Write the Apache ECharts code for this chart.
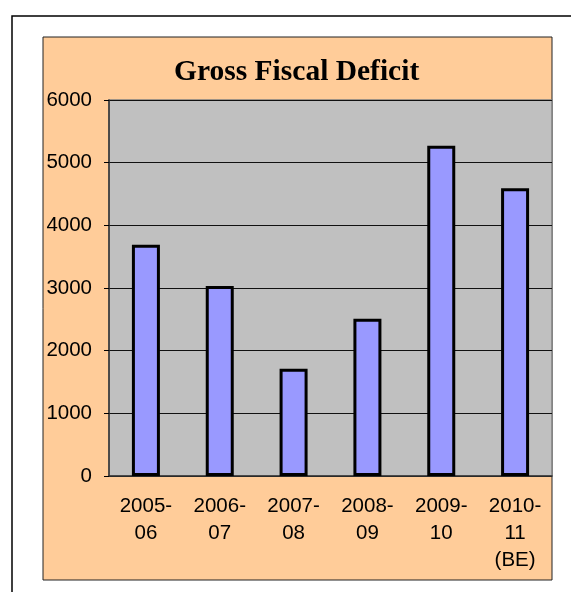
<!DOCTYPE html>
<html>
<head>
<meta charset="utf-8">
<script src="https://cdn.jsdelivr.net/npm/echarts@6/dist/echarts.min.js"></script>
<style>
html, body { margin: 0; padding: 0; background: #fff; }
#chart { width: 571px; height: 592px; }
</style>
</head>
<body>
<div id="chart"></div>
<script>
var categories = ['2005-\n06', '2006-\n07', '2007-\n08', '2008-\n09', '2009-\n10', '2010-\n11\n(BE)'];
var deficit = [3690, 3030, 1710, 2510, 5270, 4590];
var yTicks = { min: 0, max: 6000, step: 1000 };

var _chart = echarts.init(document.getElementById('chart'));
var option = {
    animation: false,
    title: {
        text: 'Gross Fiscal Deficit',
        left: 174,
        top: 57,
        padding: 0,
        textStyle: {
            fontFamily: 'Liberation Serif',
            fontSize: 29.5,
            fontWeight: 'bold',
            color: '#000'
        }
    },
    graphic: [
        {
            type: 'rect',
            z: -10,
            shape: { x: 12, y: 16, width: 600, height: 600 },
            style: { fill: '#fff', stroke: '#000', lineWidth: 1.5 }
        },
        {
            type: 'rect',
            z: -9,
            shape: { x: 43, y: 37, width: 509, height: 543 },
            style: { fill: '#FFCC99', stroke: '#222', lineWidth: 1 }
        }
    ],
    grid: {
        left: 109,
        top: 100,
        right: 19,
        bottom: 116,
        show: true,
        backgroundColor: '#C0C0C0',
        borderColor: '#808080',
        borderWidth: 1.5
    },
    xAxis: {
        type: 'category',
        data: categories,
        axisLine: { lineStyle: { color: '#333', width: 1.5 } },
        axisTick: { length: 5, lineStyle: { color: '#000' } },
        axisLabel: {
            margin: 17,
            fontFamily: 'Liberation Sans',
            fontSize: 20.5,
            lineHeight: 27,
            color: '#000',
            interval: 0
        }
    },
    yAxis: {
        type: 'value',
        min: yTicks.min,
        max: yTicks.max,
        interval: yTicks.step,
        axisLine: { show: true, lineStyle: { color: '#333', width: 1.5 } },
        axisTick: { show: true, length: 5, lineStyle: { color: '#000' } },
        axisLabel: {
            margin: 17,
            fontFamily: 'Liberation Sans',
            fontSize: 20.5,
            color: '#000',
            formatter: function (v) { return String(v); }
        },
        splitLine: { lineStyle: { color: '#111', width: 1 } }
    },
    series: [
        {
            type: 'bar',
            data: deficit,
            barWidth: 28,
            itemStyle: {
                color: '#9999FF',
                borderColor: '#000',
                borderWidth: 3
            }
        }
    ]
};
_chart.setOption(option);
</script>
</body>
</html>
